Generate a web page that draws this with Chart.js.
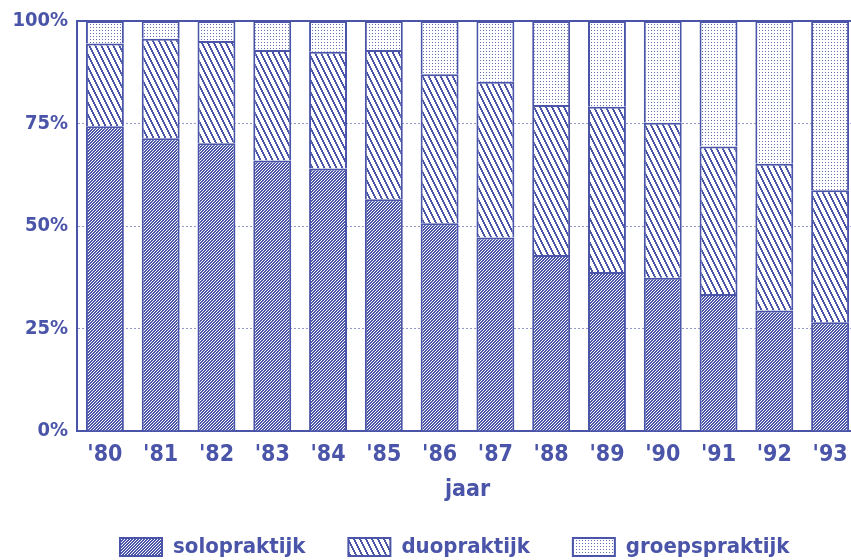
<!DOCTYPE html>
<html>
<head>
<meta charset="utf-8">
<script src="https://cdn.jsdelivr.net/npm/chart.js@4/dist/chart.umd.min.js"></script>
<style>
  body { margin: 0; background: #fff; overflow: hidden; }
  #wrap { width: 851px; height: 560px; overflow: hidden; }
  #praktijkChart { display: block; }
</style>
</head>
<body>
<div id="wrap">
  <canvas id="praktijkChart" width="858" height="568"></canvas>
</div>
<script>
// percentages per year
const years = ["'80", "'81", "'82", "'83", "'84", "'85", "'86", "'87", "'88", "'89", "'90", "'91", "'92", "'93"];
const solo = [74.3, 71.4, 70.2, 66.0, 64.0, 56.5, 50.7, 47.2, 42.9, 38.8, 37.4, 33.4, 29.4, 26.5];
const duo = [20.2, 24.3, 24.9, 26.9, 28.5, 36.4, 36.3, 38.0, 36.6, 40.3, 37.8, 36.0, 35.8, 32.2];
const groep = [5.5, 4.3, 4.9, 7.1, 7.5, 7.1, 13.0, 14.8, 20.5, 20.9, 24.8, 30.6, 34.8, 41.3];
const yTicks = [0, 25, 50, 75, 100];

const blue = '#4a54a8';
const fontFamily = "'DejaVu Sans Condensed', 'DejaVu Sans', sans-serif";

document.addEventListener('DOMContentLoaded', function() {
  const canvas = document.getElementById('praktijkChart');

  // small tiles for the hatch fills
  function makePattern(w, h, isInk, ink) {
    const tile = document.createElement('canvas');
    tile.width = w;
    tile.height = h;
    const g = tile.getContext('2d');
    g.fillStyle = '#fff';
    g.fillRect(0, 0, w, h);
    g.fillStyle = ink;
    for (let y = 0; y < h; y++) {
      for (let x = 0; x < w; x++) {
        if (isInk(x, y)) g.fillRect(x, y, 1, 1);
      }
    }
    return g.createPattern(tile, 'repeat');
  }

  const soloFill = makePattern(3, 3, (x, y) => (x + y) % 3 !== 0, blue);
  const duoFill = makePattern(6, 12, (x, y) => ((x - Math.floor(y / 2)) % 6 + 6) % 6 < 2, blue);
  const groepFill = makePattern(3, 3, (x, y) => (x === 0 && y === 0), 'rgba(74,84,168,0.85)');

  new Chart(canvas, {
    type: 'bar',
    data: {
      labels: years,
      datasets: [
        { label: 'solopraktijk', data: solo, backgroundColor: soloFill },
        { label: 'duopraktijk', data: duo, backgroundColor: duoFill },
        { label: 'groepspraktijk', data: groep, backgroundColor: groepFill }
      ].map(ds => Object.assign(ds, {
        borderColor: blue,
        borderWidth: 2,
        barPercentage: 0.68,
        categoryPercentage: 1
      }))
    },
    options: {
      responsive: false,
      devicePixelRatio: 1,
      animation: false,
      layout: { padding: { top: 19, left: 0, right: 0, bottom: 0 } },
      plugins: {
        tooltip: { enabled: false },
        legend: {
          position: 'bottom',
          align: 'start',
          fullSize: false,
          labels: {
            color: blue,
            boxWidth: 42,
            boxHeight: 18,
            padding: 43,
            font: { family: fontFamily, size: 22, weight: 'bold' }
          }
        }
      },
      scales: {
        x: {
          stacked: true,
          grid: { display: false },
          border: { display: true, color: blue, width: 2 },
          ticks: {
            color: blue,
            padding: 2,
            font: { family: fontFamily, size: 23, weight: 'bold' }
          },
          title: {
            display: true,
            text: 'jaar',
            color: blue,
            padding: { top: 0, bottom: -11 },
            font: { family: fontFamily, size: 23, weight: 'bold' }
          },
          afterFit: function(scale) { scale.height = 62; }
        },
        xTop: {
          type: 'category',
          labels: years,
          position: 'top',
          grid: { display: false, drawTicks: false },
          ticks: { display: false },
          border: { display: true, color: blue, width: 2 },
          afterFit: function(scale) { scale.height = 0; }
        },
        y: {
          stacked: true,
          min: 0,
          max: 100,
          afterBuildTicks: function(scale) {
            scale.ticks = yTicks.map(v => ({ value: v }));
          },
          grid: {
            drawTicks: false,
            lineWidth: 1,
            color: function(ctx) {
              const v = ctx.tick ? ctx.tick.value : 0;
              return (v > 0 && v < 100) ? 'rgba(74,84,168,0.6)' : 'rgba(0,0,0,0)';
            }
          },
          border: { display: true, color: blue, width: 2, dash: [2, 2] },
          ticks: {
            color: blue,
            padding: 9,
            font: { family: fontFamily, size: 20, weight: 'bold' },
            callback: v => v + '%'
          },
          afterFit: function(scale) { scale.width = 77; }
        }
      }
    }
  });
});
</script>
</body>
</html>
